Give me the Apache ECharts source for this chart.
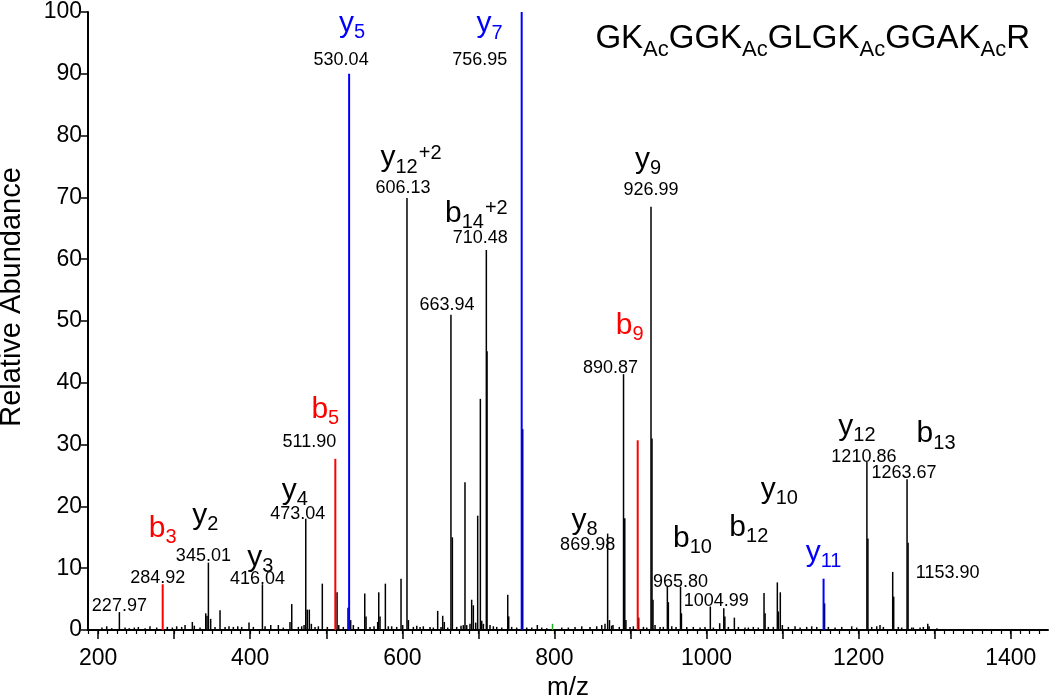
<!DOCTYPE html>
<html><head><meta charset="utf-8">
<script src="https://cdn.jsdelivr.net/npm/echarts@6/dist/echarts.min.js"></script>
<style>html,body{margin:0;padding:0;background:#fff}#c{width:1050px;height:698px}</style>
</head><body><div id="c"></div>
<script>
// ---------------- data ----------------
const X_MIN = 186.7, X_MAX = 1449;
const xTickLabels = [200, 400, 600, 800, 1000, 1200, 1400];
const xMajorTicks = [200, 300, 400, 500, 600, 700, 800, 900, 1000, 1100, 1200, 1300, 1400];
const xMinorTicks = [];
for (let v = 187.5; v <= 1445; v += 12.5) xMinorTicks.push(v);
const yTickValues = [0, 10, 20, 30, 40, 50, 60, 70, 80, 90, 100];

// [m/z, relative abundance]
const blackPeaks = [
 [205.0,0.4],[211.3,0.6],[217.9,0.3],[227.97,2.9],[235.4,0.4],[241.0,0.3],[247.6,0.4],[252.9,0.5],
 [261.7,0.3],[268.2,0.6],[277.0,0.4],[291.0,0.5],[297.6,0.4],[303.3,0.6],[309.9,0.5],[314.3,0.8],
 [323.9,1.3],[326.5,0.7],[334.0,0.4],[341.5,2.7],[343.2,2.3],[345.01,10.9],[348.0,1.8],[353.7,0.5],
 [360.3,3.2],[366.9,0.5],[372.1,0.6],[377.8,0.5],[383.6,0.6],[388.8,0.5],[398.4,1.2],[404.1,0.5],
 [416.04,7.4],[419.5,0.6],[427.0,0.8],[437.0,0.8],[443.5,0.4],[452.3,1.3],[454.6,4.2],[463.3,0.5],
 [467.7,0.6],[470.8,0.8],[473.04,18.0],[475.0,3.3],[477.7,3.3],[480.4,1.0],[485.2,0.5],[489.6,0.6],
 [494.8,7.5],[501.4,0.5],[514.2,6.1],[516.4,0.8],[522.4,0.5],[528.6,3.6],[532.1,1.6],[535.6,0.8],
 [542.2,0.5],[550.6,5.9],[552.3,2.2],[557.5,0.5],[562.8,0.6],[567.6,1.3],[569.0,6.1],[570.7,2.2],
 [577.7,7.5],[581.6,0.6],[586.0,0.6],[592.6,0.5],[598.3,8.3],[600.5,0.8],[606.13,69.9],[608.0,1.6],
 [614.5,0.5],[619.0,0.7],[623.3,0.5],[627.6,0.6],[636.4,0.5],[640.8,0.4],[646.5,3.1],[650.9,0.5],
 [653.1,2.3],[655.2,1.3],[659.7,0.4],[663.94,51.0],[665.8,15.0],[671.5,0.5],[677.2,0.7],[680.2,0.8],
 [682.4,23.9],[684.7,0.8],[689.0,1.0],[691.2,4.9],[693.4,4.0],[696.5,1.2],[699.1,18.5],[702.6,37.4],
 [704.4,1.5],[706.6,1.0],[710.48,61.5],[711.4,45.1],[715.3,0.8],[719.7,0.6],[724.1,0.5],[730.7,0.4],
 [738.6,5.7],[739.9,2.2],[743.8,0.5],[750.4,0.4],[758.3,32.5],[763.6,0.4],[770.2,0.4],[777.5,0.8],
 [783.3,0.4],[789.9,0.3],[809.6,0.4],[818.3,0.4],[827.1,0.5],[835.9,0.6],[846.8,0.5],[855.6,0.6],
 [862.2,0.8],[866.5,1.0],[869.98,15.6],[872.4,1.6],[875.3,0.7],[877.0,0.8],[885.3,0.5],[890.87,41.4],
 [892.5,18.1],[894.0,1.6],[899.4,0.5],[903.8,0.6],[910.8,2.0],[917.0,0.5],[921.4,0.4],[926.99,68.5],
 [928.3,31.0],[929.6,4.9],[932.3,0.8],[938.9,0.5],[943.2,0.5],[948.5,7.0],[949.8,4.5],[954.3,0.6],
 [959.9,0.5],[965.80,7.0],[967.0,2.7],[974.0,0.5],[982.6,0.5],[991.5,0.4],[998.0,0.5],[1004.99,3.8],
 [1009.0,0.4],[1017.3,1.1],[1022.7,3.5],[1024.1,2.2],[1028.7,0.5],[1036.6,2.0],[1041.9,0.5],[1050.6,0.4],
 [1055.0,0.4],[1061.5,0.5],[1068.1,0.4],[1075.6,6.0],[1077.0,2.7],[1081.3,0.5],[1087.8,0.5],[1093.1,7.7],
 [1094.4,3.0],[1097.0,6.1],[1099.7,0.8],[1107.6,0.5],[1116.4,0.6],[1123.0,0.4],[1131.7,0.5],[1138.3,0.6],
 [1144.9,0.5],[1155.2,4.3],[1160.2,0.5],[1169.0,0.4],[1177.8,0.5],[1190.9,0.6],[1197.5,0.4],[1210.86,27.2],
 [1212.2,14.8],[1217.2,0.5],[1223.8,0.6],[1228.1,0.8],[1232.5,0.5],[1244.8,9.4],[1246.1,5.4],[1252.2,0.5],
 [1256.6,0.4],[1263.67,24.4],[1265.0,14.1],[1269.8,0.4],[1272.0,0.4],[1280.8,0.4],[1285.1,0.5],[1290.9,1.0],
 [1292.6,0.6],[1303.0,0.3]
];
const redPeaks = [[284.92,7.4],[511.90,27.7],[909.5,30.7]];
const bluePeaks = [[530.04,90.0],[756.95,100.0],[1153.90,8.3]];
const greenPeaks = [[797.5,1.0]];

// [anchor m/z, anchor abundance, ion (base|sub|sup), m/z text]
const annotations = [
 [227.97, 2.9, '', '227.97'],
 [284.92, 7.4, 'b|3|', '284.92'],
 [345.01, 10.9, 'y|2|', '345.01'],
 [416.04, 7.4, 'y|3|', '416.04'],
 [473.04, 18.0, 'y|4|', '473.04'],
 [511.90, 27.7, 'b|5|', '511.90'],
 [530.04, 90.0, 'y|5|', '530.04'],
 [606.13, 69.9, 'y|12|+2', '606.13'],
 [663.94, 51.0, '', '663.94'],
 [710.48, 61.5, 'b|14|+2', '710.48'],
 [756.95, 100.0, 'y|7|', '756.95'],
 [869.98, 15.6, 'y|8|', '869.98'],
 [890.87, 41.4, '', '890.87'],
 [909.5, 30.7, 'b|9|', ''],
 [926.99, 68.5, 'y|9|', '926.99'],
 [965.80, 7.0, 'b|10|', '965.80'],
 [1004.99, 3.8, '', '1004.99'],
 [1022.7, 3.5, 'b|12|', ''],
 [1093.1, 7.7, 'y|10|', ''],
 [1153.90, 8.3, 'y|11|', '1153.90'],
 [1210.86, 27.2, 'y|12|', '1210.86'],
 [1263.67, 24.4, 'b|13|', '1263.67']
];
const peptideTitle = [['GK','Ac'],['GGK','Ac'],['GLGK','Ac'],['GGAK','Ac'],['R','']];

// ---------------- layout / style ----------------
const ionOffset = [null,[0,-58],[-3,-49],[-2,-29],[-11,-30],[-10,-51],[3,-52],[4,-42],null,[-10,-38],[-32,10],
  [-23,-15],null,[-8,-117],[-3,-49],[12,-50],null,[25,-83],[2,-95],[0,-28],[-10,-37],[29,-47]];
const numOffset = [[0,-6],[-5,-6],[-5,-7],[-5,-5],[-8,-5],[-26,-17],[-8,-14],[-4,-10],[-4,-10],[-6,-12],[-42,48],
  [-20,11],[-13,-6],null,[0,-17],[0,-5],[6,-5],null,null,[124,-6],[-3,-5],[-3,-6]];
const ionColor = {b3:'#ff0000', b5:'#ff0000', b9:'#ff0000', y5:'#0000ff', y7:'#0000ff', y11:'#0000ff'};
const FONT = 'Liberation Sans, Arial, sans-serif';

function ionRich(col){
  return {
    m:{fontSize:30, fontFamily:FONT, lineHeight:30, verticalAlign:'top', fill:col},
    s:{fontSize:20, fontFamily:FONT, lineHeight:20, verticalAlign:'top', padding:[14,0,0,0], fill:col},
    p:{fontSize:20, fontFamily:FONT, lineHeight:20, verticalAlign:'top', padding:[0,0,0,1], fill:col}
  };
}

function peakSeries(name, data, color, width){
  return {
    type:'custom', name, data, clip:false, silent:true,
    renderItem(params, api){
      const top = api.coord([api.value(0), api.value(1)]);
      const base = api.coord([api.value(0), 0]);
      return {type:'line', shape:{x1:top[0], y1:base[1], x2:top[0], y2:top[1]},
        style:{stroke:color, lineWidth:width}};
    }
  };
}

const chart = echarts.init(document.getElementById('c'), null, {renderer:'canvas'});
chart.setOption({
  animation:false,
  backgroundColor:'#fff',
  grid:{left:88, right:2, top:12, bottom:68, containLabel:false, outerBoundsMode:'none'},
  title:{
    right:20, top:22, padding:0,
    text: peptideTitle.map(p => '{m|'+p[0]+'}' + (p[1] ? '{s|'+p[1]+'}' : '')).join(''),
    textStyle:{fontWeight:'normal', rich:{
      m:{fontSize:33, fontFamily:FONT, fontWeight:'normal', color:'#000', lineHeight:33, verticalAlign:'top'},
      s:{fontSize:22, fontFamily:FONT, fontWeight:'normal', color:'#000', lineHeight:22, verticalAlign:'top', padding:[17,0,0,0]}
    }}
  },
  xAxis:[{
    type:'value', min:X_MIN, max:X_MAX, position:'bottom',
    axisLine:{show:true, onZero:false, lineStyle:{color:'#000', width:2}},
    axisTick:{show:true, customValues:xMajorTicks, length:9, lineStyle:{color:'#000', width:1.5}},
    axisLabel:{customValues:xTickLabels, formatter:v => String(v), fontSize:23, color:'#000', fontFamily:FONT, margin:17},
    splitLine:{show:false},
    name:'m/z', nameLocation:'middle', nameGap:44,
    nameTextStyle:{fontSize:26, color:'#000', fontFamily:FONT}
  },{
    type:'value', min:X_MIN, max:X_MAX, position:'bottom',
    axisLine:{show:false, onZero:false},
    axisTick:{show:true, customValues:xMinorTicks, length:4, lineStyle:{color:'#000', width:1.2}},
    axisLabel:{show:false}, splitLine:{show:false}
  }],
  yAxis:{
    type:'value', min:0, max:100, interval:10,
    axisLine:{show:true, lineStyle:{color:'#000', width:2}},
    axisTick:{show:true, length:7, lineStyle:{color:'#000', width:1.5}},
    axisLabel:{fontSize:23, color:'#000', fontFamily:FONT, margin:6},
    splitLine:{show:false},
    name:'Relative Abundance', nameLocation:'middle', nameGap:62,
    nameTextStyle:{fontSize:29, color:'#000', fontFamily:FONT, padding:[0,0,0,48]}
  },
  series:[
    peakSeries('black', blackPeaks, '#000', 1.5),
    peakSeries('red', redPeaks, '#ff0000', 2),
    peakSeries('blue', bluePeaks, '#0000ff', 2),
    peakSeries('green', greenPeaks, '#22aa22', 1.5),
    {
      type:'custom', name:'labels', clip:false, silent:true, z:10,
      data: annotations.map((a, i) => [a[0], a[1], i]),
      renderItem(params, api){
        const i = api.value(2);
        const a = annotations[i];
        const p = api.coord([api.value(0), api.value(1)]);
        const children = [];
        if (a[3] && numOffset[i]) {
          children.push({type:'text', x:p[0]+numOffset[i][0], y:p[1]+numOffset[i][1],
            style:{text:a[3], fill:'#000', font:'18px '+FONT, align:'center', verticalAlign:'middle'}});
        }
        if (a[2] && ionOffset[i]) {
          const parts = a[2].split('|');
          const col = ionColor[parts[0]+parts[1]] || '#000';
          let txt = '{m|'+parts[0]+'}{s|'+parts[1]+'}' + (parts[2] ? '{p|'+parts[2]+'}' : '');
          children.push({type:'text', x:p[0]+ionOffset[i][0], y:p[1]+ionOffset[i][1]+2,
            style:{text:txt, rich:ionRich(col), fill:col, align:'center', verticalAlign:'middle'}});
        }
        return {type:'group', children};
      }
    }
  ]
});
</script>
</body></html>
